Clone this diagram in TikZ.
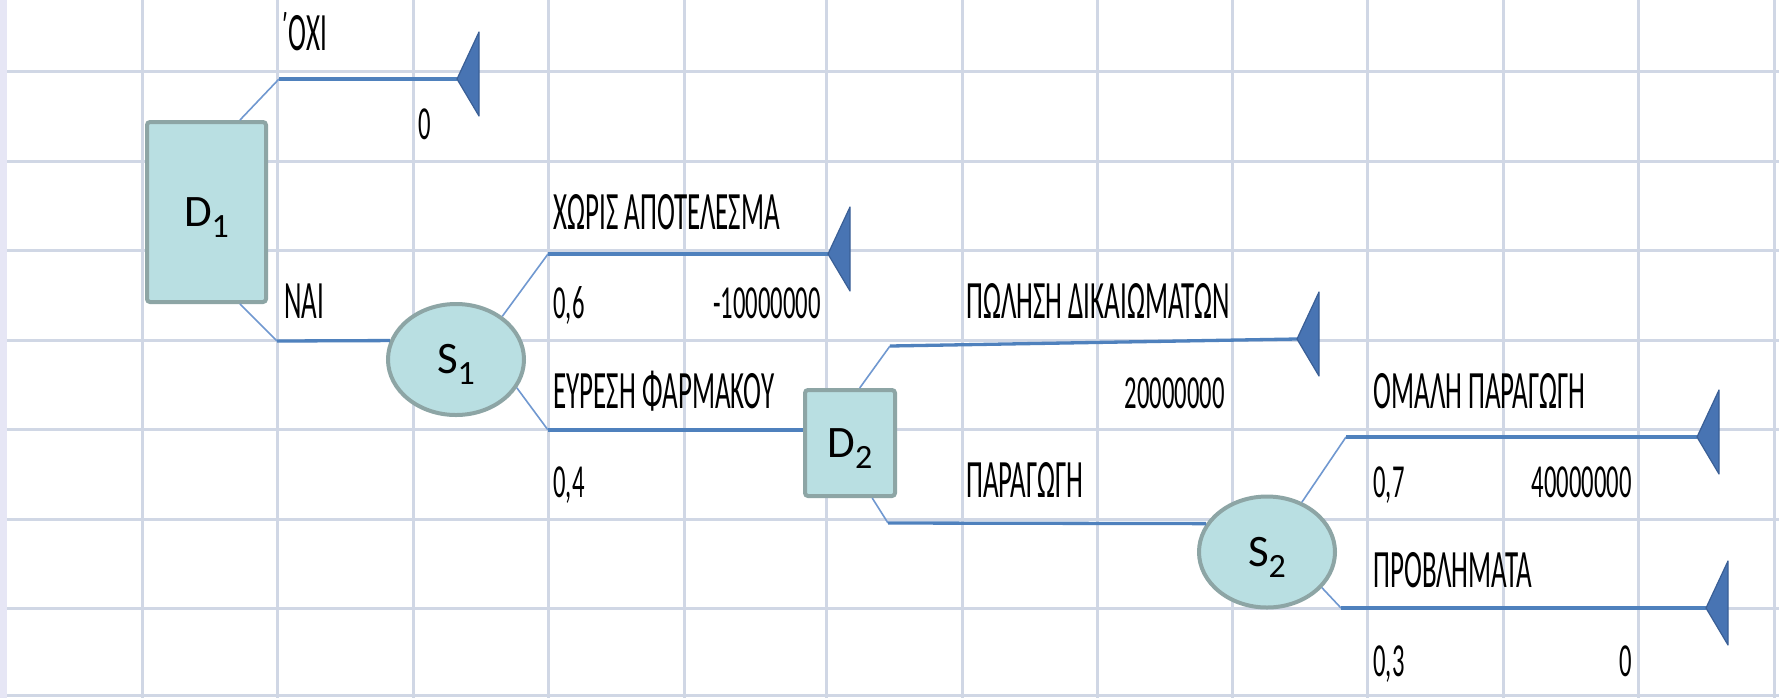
\documentclass[tikz,border=0pt]{standalone}
\usepackage{fontspec}
\setmainfont{Carlito}
\usepackage{graphicx}
\usetikzlibrary{shapes.geometric}
\definecolor{gridc}{HTML}{D0D7E5}
\definecolor{nodefill}{HTML}{B9DFE2}
\definecolor{nodedraw}{HTML}{8DA5A5}
\definecolor{branchc}{HTML}{4F81BD}
\definecolor{diagc}{HTML}{7098D0}
\definecolor{termfill}{HTML}{4874B3}
\definecolor{termdraw}{HTML}{3A5F96}
\definecolor{leftband}{HTML}{E6E6F5}
\newcommand{\lbl}[1]{\scalebox{0.5}[1]{\fontsize{27}{27}\selectfont #1}}
\newcommand{\nmb}[1]{\scalebox{0.52}[1]{\fontsize{23.7}{24}\selectfont #1}}
\newcommand{\dsub}[2]{\fontsize{22.5}{23}\selectfont #1\raisebox{-5.5pt}[0pt][0pt]{\fontsize{17}{17}\selectfont #2}}
\begin{document}
\begin{tikzpicture}[x=0.5pt,y=-0.5pt,
  gridline/.style={gridc,line width=1.5pt},
  decision/.style={rectangle,draw=nodedraw,fill=nodefill,line width=2pt,rounded corners=1.5pt,inner sep=0pt},
  chance/.style={ellipse,draw=nodedraw,fill=nodefill,line width=2pt,inner sep=0pt,minimum width=68pt,minimum height=55.5pt},
  branchline/.style={branchc,line width=1.65pt},
  diagline/.style={diagc,line width=0.8pt},
  terminal/.style={fill=termfill,draw=termdraw,line width=0.6pt,line join=round},
  txt/.style={inner sep=0pt,anchor=base west},
  txtr/.style={inner sep=0pt,anchor=base east}]
\useasboundingbox (0,0) rectangle (1779,698);
\fill[white] (0,0) rectangle (1779,698);
% grid
\foreach \x in {142,277,413,548,684,826,962,1097,1232,1367,1503,1638,1774}
  \draw[gridline] (\x,0) -- (\x,698);
\foreach \y in {71.5,161,250.5,340,429.5,519,608.5,695}
  \draw[gridline] (6,\y) -- (1779,\y);
\fill[leftband] (0,0) rectangle (7,698);
% nodes
\node[decision,minimum width=59.5pt,minimum height=90pt] (D1) at (206.5,212) {\dsub{D}{1}};
\node[chance] (S1) at (456,359.5) {\dsub{S}{1}};
\node[decision,minimum width=45pt,minimum height=53pt] (D2) at (850,443) {\dsub{D}{2}};
\node[chance] (S2) at (1267,552) {\dsub{S}{2}};
% bend and end coordinates
\coordinate (a1) at (279,79);
\coordinate (t1) at (457,79);
\coordinate (a2) at (277,341);
\coordinate (b1) at (548,254);
\coordinate (t2) at (828,254);
\coordinate (b2) at (548,430);
\coordinate (c1) at (890,346);
\coordinate (t3) at (1297,339);
\coordinate (c2) at (888,523);
\coordinate (d1) at (1346,437);
\coordinate (t4) at (1697,437);
\coordinate (d2) at (1341,608);
\coordinate (t5) at (1706,608);
% diagonals
\draw[diagline] (D1.70) -- (a1);
\draw[diagline] (D1.-70) -- (a2);
\draw[diagline] (S1.43) -- (b1);
\draw[diagline] (S1.-25) -- (b2);
\draw[diagline] (D2.80) -- (c1);
\draw[diagline] (D2.-68) -- (c2);
\draw[diagline] (S2.55) -- (d1);
\draw[diagline] (S2.-33) -- (d2);
% branches
\draw[branchline] (a1) -- (t1);
\draw[branchline] (a2) -- (S1.164);
\draw[branchline] (b1) -- (t2);
\draw[branchline] (b2) -- (D2.west |- b2);
\draw[branchline] (c1) -- (t3);
\draw[branchline] (c2) -- (S2.155);
\draw[branchline] (d1) -- (t4);
\draw[branchline] (d2) -- (t5);
% terminals
\foreach \t in {t1,t2,t3,t4,t5}
  \filldraw[terminal] (\t) -- ++(22,-47) -- ++(0,84) -- cycle;
% labels
\node[txt] (l1) at (280,50) {\lbl{\symbol{"0384}ΟΧΙ}};
\node[txt] (v1) at (418,139.5) {\nmb{0}};
\node[txt] (l2) at (284,318.5) {\lbl{ΝΑΙ}};
\node[txt] (l3) at (553,229) {\lbl{ΧΩΡΙΣ ΑΠΟΤΕΛΕΣΜΑ}};
\node[txt] (p1) at (553,318.5) {\nmb{0,6}};
\node[txtr] (v2) at (821,318.5) {\nmb{-10000000}};
\node[txt] (l4) at (553,408) {\lbl{ΕΥΡΕΣΗ ΦΑΡΜΑΚΟΥ}};
\node[txt] (p2) at (553,497.5) {\nmb{0,4}};
\node[txt] (l5) at (966,318.5) {\lbl{ΠΩΛΗΣΗ ΔΙΚΑΙΩΜΑΤΩΝ}};
\node[txtr] (v3) at (1225,408) {\nmb{20000000}};
\node[txt] (l6) at (966,497.5) {\lbl{ΠΑΡΑΓΩΓΗ}};
\node[txt] (l7) at (1373,408) {\lbl{ΟΜΑΛΗ ΠΑΡΑΓΩΓΗ}};
\node[txt] (p3) at (1373,497.5) {\nmb{0,7}};
\node[txtr] (v4) at (1632,497.5) {\nmb{40000000}};
\node[txt] (l8) at (1373,587) {\lbl{ΠΡΟΒΛΗΜΑΤΑ}};
\node[txt] (p4) at (1373,676.5) {\nmb{0,3}};
\node[txtr] (v5) at (1632,676.5) {\nmb{0}};
\end{tikzpicture}
\end{document}
